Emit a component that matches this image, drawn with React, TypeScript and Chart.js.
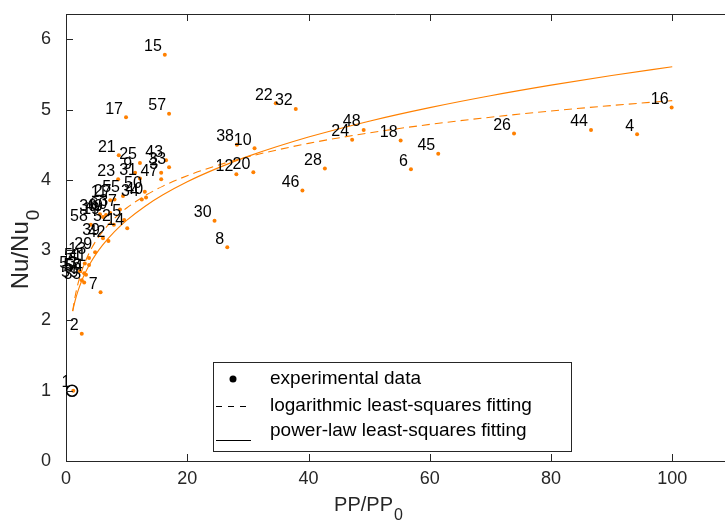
import { useEffect, useRef } from "react";
import { Chart, registerables } from "chart.js";

Chart.register(...registerables);

const FONT = "'Liberation Sans', Arial, Helvetica, sans-serif";
const ORANGE = "#ff8000";
const INK = "#262626";

// experimental points, label order 1..60
const pointLabels = [
  "1", "2", "3", "4", "5", "6", "7", "8", "9", "10",
  "11", "12", "13", "14", "15", "16", "17", "18", "19", "20",
  "21", "22", "23", "24", "25", "26", "27", "28", "29", "30",
  "31", "32", "33", "34", "35", "36", "37", "38", "39", "40",
  "41", "42", "43", "44", "45", "46", "47", "48", "49", "50",
  "51", "52", "53", "54", "55", "56", "57", "58", "59", "60",
];
const ppRatio = [
  1.2, 2.6, 15.7, 94.2, 9.6, 56.9, 5.7, 26.6, 11.4, 31.1,
  7.3, 28.1, 3.8, 10.1, 16.3, 99.9, 9.9, 55.2, 6.1, 30.9,
  8.7, 34.6, 8.6, 47.2, 12.2, 73.9, 8.0, 42.7, 4.8, 24.5,
  12.2, 37.9, 17.0, 12.5, 3.0, 5.6, 8.9, 28.2, 6.1, 13.2,
  3.8, 7.0, 16.5, 86.6, 61.4, 39.0, 15.7, 49.1, 6.6, 13.0,
  3.1, 7.9, 2.3, 3.3, 9.4, 3.0, 17.0, 4.1, 2.6, 7.3,
];
const nuRatio = [
  1.0, 1.81, 4.10, 4.65, 3.43, 4.15, 2.40, 3.04, 4.10, 4.45,
  3.71, 4.08, 2.89, 3.31, 5.78, 5.03, 4.89, 4.56, 3.47, 4.11,
  4.35, 5.09, 4.01, 4.57, 4.24, 4.66, 3.72, 4.16, 2.97, 3.42,
  4.02, 5.01, 4.18, 3.72, 2.54, 3.51, 3.58, 4.50, 3.17, 3.75,
  2.79, 3.13, 4.28, 4.71, 4.37, 3.85, 4.01, 4.71, 3.50, 3.83,
  2.81, 3.36, 2.70, 2.65, 3.77, 2.67, 4.94, 3.36, 2.57, 3.53,
];

// reference point (circled)
const refX = [1.0];
const refY = [1.0];

// fitted curves, values
const fitX = [1.1, 1.5, 2, 2.5, 3, 4, 5, 6, 8, 10, 13, 16, 20, 25, 30, 40, 50, 60, 70, 80, 90, 100];
const logFitY = [2.133, 2.339, 2.530, 2.678, 2.799, 2.991, 3.139, 3.260, 3.451, 3.599, 3.773, 3.911, 4.059, 4.207, 4.328, 4.519, 4.668, 4.789, 4.891, 4.980, 5.058, 5.128];
const powerFitY = [2.133, 2.280, 2.425, 2.544, 2.645, 2.813, 2.951, 3.069, 3.264, 3.424, 3.622, 3.787, 3.973, 4.167, 4.334, 4.609, 4.835, 5.028, 5.197, 5.348, 5.485, 5.610];

const xTicks = [0, 20, 40, 60, 80, 100];
const yTicks = [0, 1, 2, 3, 4, 5, 6];

const legendItems = [
  "experimental data",
  "logarithmic least-squares fitting",
  "power-law least-squares fitting",
];

function drawSubText(
  ctx: CanvasRenderingContext2D,
  main: string,
  sub: string,
  size: number
) {
  ctx.font = `${size}px ${FONT}`;
  const w1 = ctx.measureText(main).width;
  ctx.font = `${Math.round(size * 0.8)}px ${FONT}`;
  const w2 = ctx.measureText(sub).width;
  const start = -(w1 + w2) / 2;
  ctx.textAlign = "left";
  ctx.textBaseline = "middle";
  ctx.font = `${size}px ${FONT}`;
  ctx.fillText(main, start, 0);
  ctx.font = `${Math.round(size * 0.8)}px ${FONT}`;
  ctx.fillText(sub, start + w1 + 1, size * 0.55);
}

const overlay = {
  id: "overlay",
  afterDatasetsDraw(chart: any) {
    const ctx: CanvasRenderingContext2D = chart.ctx;
    const meta = chart.getDatasetMeta(0);
    ctx.save();
    ctx.fillStyle = "#000";
    ctx.font = `16px ${FONT}`;
    ctx.textAlign = "right";
    ctx.textBaseline = "middle";
    meta.data.forEach((el: any, i: number) => {
      ctx.fillText(pointLabels[i], el.x - 3, el.y - 8);
    });
    ctx.restore();
  },
  afterDraw(chart: any) {
    const ctx: CanvasRenderingContext2D = chart.ctx;
    const { left, right, top, bottom } = chart.chartArea;
    const xs = chart.scales.x;
    const ys = chart.scales.y;
    ctx.save();
    // top border
    ctx.strokeStyle = INK;
    ctx.lineWidth = 1;
    ctx.beginPath();
    ctx.moveTo(left, top + 0.5);
    ctx.lineTo(right, top + 0.5);
    ctx.stroke();
    // inward ticks
    ctx.beginPath();
    xTicks.forEach((v) => {
      const px = Math.round(xs.getPixelForValue(v)) + 0.5;
      ctx.moveTo(px, bottom);
      ctx.lineTo(px, bottom - 7);
      ctx.moveTo(px, top);
      ctx.lineTo(px, top + 7);
    });
    yTicks.forEach((v) => {
      const py = Math.round(ys.getPixelForValue(v)) + 0.5;
      ctx.moveTo(left, py);
      ctx.lineTo(left + 7, py);
    });
    ctx.stroke();

    // axis titles
    ctx.fillStyle = INK;
    ctx.save();
    ctx.translate(368, 505);
    drawSubText(ctx, "PP/PP", "0", 20);
    ctx.restore();
    ctx.save();
    ctx.translate(21, 250);
    ctx.rotate(-Math.PI / 2);
    drawSubText(ctx, "Nu/Nu", "0", 24);
    ctx.restore();

    // legend
    const bx = 213.5, by = 362.5, bw = 358, bh = 89;
    ctx.fillStyle = "#fff";
    ctx.fillRect(bx, by, bw, bh);
    ctx.strokeStyle = INK;
    ctx.lineWidth = 1;
    ctx.strokeRect(bx, by, bw, bh);
    const rows = [379, 406, 431];
    ctx.fillStyle = "#000";
    ctx.font = `19px ${FONT}`;
    ctx.textAlign = "left";
    ctx.textBaseline = "middle";
    legendItems.forEach((t, i) => ctx.fillText(t, 270, rows[i]));
    ctx.beginPath();
    ctx.arc(233, rows[0], 3.5, 0, Math.PI * 2);
    ctx.fill();
    ctx.strokeStyle = "#000";
    ctx.lineWidth = 1;
    ctx.beginPath();
    [216, 228, 240].forEach((s) => {
      ctx.moveTo(s, rows[1] + 0.5);
      ctx.lineTo(s + 6, rows[1] + 0.5);
    });
    ctx.moveTo(216, 440.5);
    ctx.lineTo(251, 440.5);
    ctx.stroke();
    ctx.restore();
  },
};

export default function App() {
  const ref = useRef<HTMLCanvasElement>(null);
  useEffect(() => {
    document.body.style.margin = "0";
    const chart = new Chart(ref.current as HTMLCanvasElement, {
      type: "scatter",
      data: {
        datasets: [
          {
            label: "experimental data",
            data: ppRatio.map((x, i) => ({ x, y: nuRatio[i] })),
            pointRadius: 2,
            pointHoverRadius: 2,
            pointBackgroundColor: ORANGE,
            pointBorderWidth: 0,
            showLine: false,
          },
          {
            label: "reference",
            data: refX.map((x, i) => ({ x, y: refY[i] })),
            pointRadius: 5.5,
            pointBackgroundColor: "rgba(0,0,0,0)",
            pointBorderColor: "#000",
            pointBorderWidth: 1.6,
            showLine: false,
          },
          {
            label: "logarithmic least-squares fitting",
            type: "line",
            data: fitX.map((x, i) => ({ x, y: logFitY[i] })),
            borderColor: ORANGE,
            borderWidth: 1.1,
            borderDash: [8, 5],
            pointRadius: 0,
            cubicInterpolationMode: "monotone",
            fill: false,
          },
          {
            label: "power-law least-squares fitting",
            type: "line",
            data: fitX.map((x, i) => ({ x, y: powerFitY[i] })),
            borderColor: ORANGE,
            borderWidth: 1.1,
            pointRadius: 0,
            cubicInterpolationMode: "monotone",
            fill: false,
          },
        ],
      } as any,
      options: {
        responsive: false,
        animation: false,
        layout: { autoPadding: false, padding: { top: 14, right: 0, left: 0, bottom: 0 } },
        plugins: { legend: { display: false }, tooltip: { enabled: false } },
        scales: {
          x: {
            type: "linear",
            min: 0,
            max: 108.7,
            ticks: {
              stepSize: 20,
              includeBounds: false,
              color: INK,
              font: { family: FONT, size: 18 },
              padding: 7,
              maxRotation: 0,
            },
            grid: { display: false, drawTicks: false },
            border: { display: true, color: INK, width: 1 },
            afterFit: (s: any) => {
              s.height = 62;
              s.paddingRight = 0;
              s.paddingLeft = 0;
            },
          },
          y: {
            type: "linear",
            min: 0,
            max: 6.36,
            ticks: {
              stepSize: 1,
              includeBounds: false,
              color: INK,
              font: { family: FONT, size: 18 },
              padding: 15,
            },
            grid: { display: false, drawTicks: false },
            border: { display: true, color: INK, width: 1 },
            afterFit: (s: any) => {
              s.width = 66;
              s.paddingTop = 0;
              s.paddingBottom = 0;
            },
          },
        },
      } as any,
      plugins: [overlay],
    });
    return () => chart.destroy();
  }, []);
  return (
    <div style={{ width: 725, height: 523 }}>
      <canvas ref={ref} width={725} height={523} style={{ display: "block" }} />
    </div>
  );
}
